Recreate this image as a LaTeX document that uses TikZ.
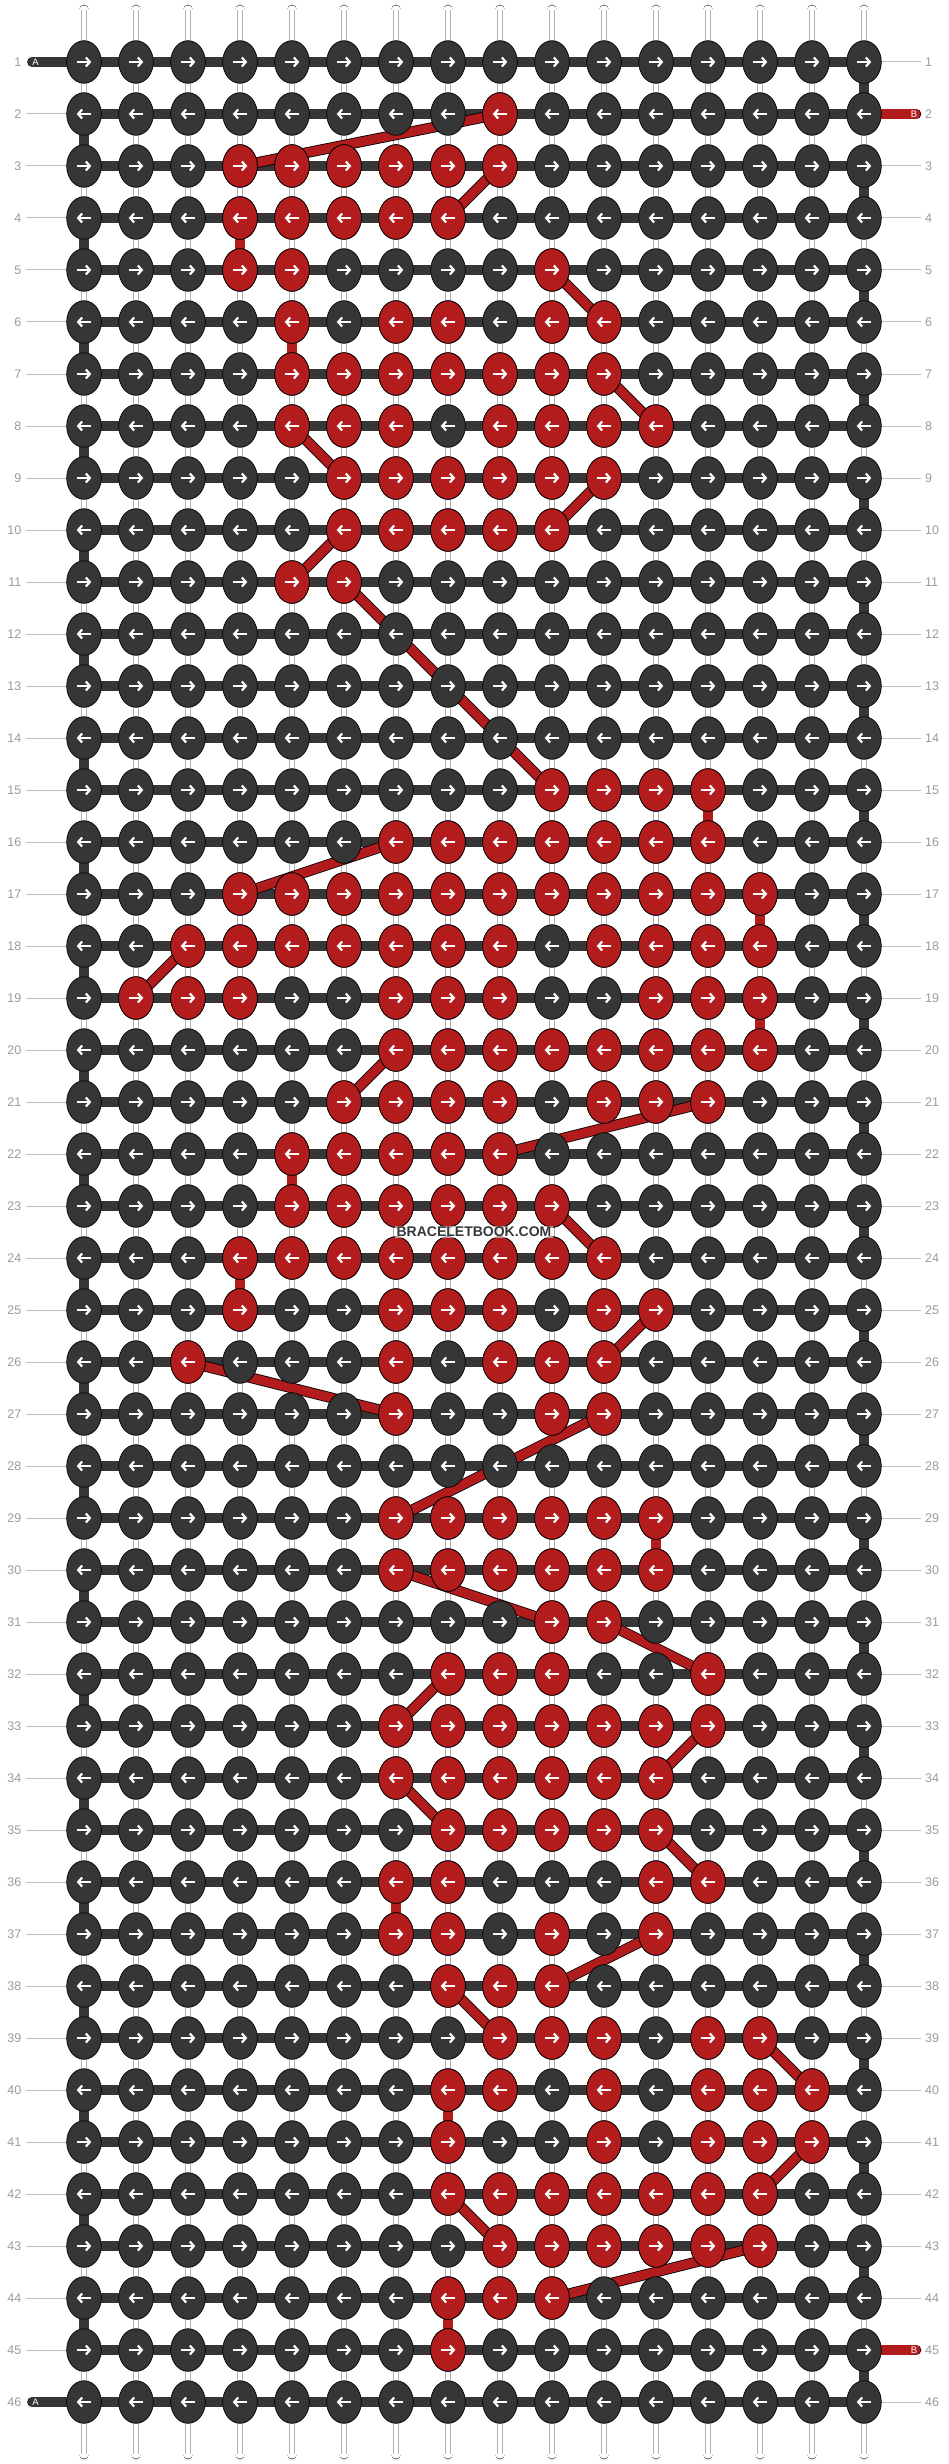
\documentclass[tikz,border=0pt]{standalone}
\usepackage{fontspec}
\setmainfont{Liberation Sans}
\usetikzlibrary{shapes.geometric,arrows.meta}

\definecolor{knotdark}{HTML}{363636}
\definecolor{knotred}{HTML}{B21C1C}
\definecolor{rowgrey}{HTML}{9A9A9A}
\definecolor{tickgrey}{HTML}{BDBDBD}

\pgfdeclarelayer{threads}
\pgfsetlayers{threads,main}

\tikzset{
  knot/.style={ellipse, draw=black, line width=0.7pt, minimum width=34.6pt,
    minimum height=42.6pt, inner sep=0pt},
  darkknot/.style={knot, fill=knotdark},
  redknot/.style={knot, fill=knotred},
  knotarrow/.style={white, line width=2.2pt, -{Straight Barb[length=4pt,width=9pt]}},
  darkbar/.style={draw=black, line width=0.8pt, double=knotdark, double distance=9.1pt},
  redbar/.style={draw=black, line width=0.8pt, double=knotred, double distance=9.1pt},
  string/.style={draw=black!80, line width=0.7pt, double=white, double distance=9.3pt, line cap=round},
  stringline/.style={draw=black!30, line width=0.6pt},
  tick/.style={draw=tickgrey, line width=1pt},
  rownum/.style={text=rowgrey, inner sep=0pt, font=\fontsize{12.5}{14}\selectfont},
  stubtext/.style={text=white, inner sep=0pt, font=\fontsize{9.5}{10}\selectfont},
  watermark/.style={text=black!78, fill=white, fill opacity=0.55, text opacity=1,
    inner sep=1.5pt, font=\bfseries\fontsize{14}{16}\selectfont}
}

\begin{document}
\begin{tikzpicture}[x=1pt,y=-1pt]
\useasboundingbox (0,0) rectangle (948,2464);

% knots, all dark first
\foreach \r in {1,...,46}
  \foreach \c in {1,...,16}
    \node[darkknot] (k\r-\c) at ({32+52*\c},{10+52*\r}) {};

% red knots of the pattern
\foreach \r/\cols in {2/{9}, 3/{4,5,6,7,8,9}, 4/{4,5,6,7,8}, 5/{4,5,10},
    6/{5,7,8,10,11}, 7/{5,6,7,8,9,10,11}, 8/{5,6,7,9,10,11,12},
    9/{6,7,8,9,10,11}, 10/{6,7,8,9,10}, 11/{5,6},
    15/{10,11,12,13}, 16/{7,8,9,10,11,12,13},
    17/{4,5,6,7,8,9,10,11,12,13,14}, 18/{3,4,5,6,7,8,9,11,12,13,14},
    19/{2,3,4,7,8,9,12,13,14}, 20/{7,8,9,10,11,12,13,14},
    21/{6,7,8,9,11,12,13}, 22/{5,6,7,8,9}, 23/{5,6,7,8,9,10},
    24/{4,5,6,7,8,9,10,11}, 25/{4,7,8,9,11,12}, 26/{3,7,9,10,11},
    27/{7,10,11}, 29/{7,8,9,10,11,12}, 30/{7,8,9,10,11,12}, 31/{10,11},
    32/{8,9,10,13}, 33/{7,8,9,10,11,12,13}, 34/{7,8,9,10,11,12},
    35/{8,9,10,11,12}, 36/{7,8,12,13}, 37/{7,8,10,12}, 38/{8,9,10},
    39/{9,10,11,13,14}, 40/{8,9,11,13,14,15}, 41/{8,11,13,14,15},
    42/{8,9,10,11,12,13,14}, 43/{9,10,11,12,13,14}, 44/{8,9,10}, 45/{8}}
  \foreach \c in \cols
    \node[redknot] (k\r-\c) at ({32+52*\c},{10+52*\r}) {};

% arrows: odd rows to the right, even rows to the left
\foreach \r in {1,...,46}
  \foreach \c in {1,...,16}{
    \ifodd\r
      \draw[knotarrow] ([xshift=-7.3pt]k\r-\c.center) -- ([xshift=7.3pt]k\r-\c.center);
    \else
      \draw[knotarrow] ([xshift=7.3pt]k\r-\c.center) -- ([xshift=-7.3pt]k\r-\c.center);
    \fi
  }

\node[watermark] (wm) at (474,1232) {BRACELETBOOK.COM};

\begin{pgfonlayer}{threads}
  % vertical strings
  \foreach \c in {1,...,16}{
    \coordinate (top\c) at ({32+52*\c},10);
    \coordinate (bot\c) at ({32+52*\c},2454);
    \draw[string] (top\c) -- (bot\c);
    \draw[stringline] ([xshift=-2.3pt]top\c) -- ([xshift=-2.3pt]bot\c);
    \draw[stringline] ([xshift=2.3pt]top\c) -- ([xshift=2.3pt]bot\c);
  }

  % row numbers
  \foreach \r in {1,...,46}{
    \node[rownum, anchor=east] (nl\r) at (21.5,{10+52*\r}) {\r};
    \node[rownum, anchor=west] (nr\r) at (925,{10+52*\r}) {\r};
  }
  \foreach \r in {2,...,45}
    \draw[tick] ([xshift=4.5pt]nl\r.east) -- (k\r-1);
  \foreach \r in {1,3,4,...,44,46}
    \draw[tick] (k\r-16) -- ([xshift=-4pt]nr\r.west);

  % thread A along the rows
  \foreach \r in {1,...,46}
    \draw[darkbar] (k\r-1.center) -- (k\r-16.center);
  \foreach \r in {1,3,...,45}{
    \pgfmathtruncatemacro\n{\r+1}
    \draw[darkbar] (k\r-16.center) -- (k\n-16.center);
  }
  \foreach \r in {2,4,...,44}{
    \pgfmathtruncatemacro\n{\r+1}
    \draw[darkbar] (k\r-1.center) -- (k\n-1.center);
  }

  % thread B from row to row
  \foreach \a/\b in {2-9/3-4, 3-9/4-8, 4-4/5-4, 5-10/6-11, 6-5/7-5, 7-11/8-12,
      8-5/9-6, 9-11/10-10, 10-6/11-5, 11-6/15-10, 15-13/16-13, 16-7/17-4,
      17-14/18-14, 18-3/19-2, 19-14/20-14, 20-7/21-6, 21-13/22-9, 22-5/23-5,
      23-10/24-11, 24-4/25-4, 25-12/26-11, 26-3/27-7, 27-11/29-7, 29-12/30-12,
      30-7/31-10, 31-11/32-13, 32-8/33-7, 33-13/34-12, 34-7/35-8, 35-12/36-13,
      36-7/37-7, 37-12/38-10, 38-8/39-9, 39-14/40-15, 40-8/41-8, 41-15/42-14,
      42-8/43-9, 43-14/44-10, 44-8/45-8}
    \draw[redbar] (k\a.center) -- (k\b.center);

  % loose ends
  \coordinate (ain) at (32.5,62);
  \coordinate (aout) at (32.5,2402);
  \coordinate (bin) at (916,114);
  \coordinate (bout) at (916,2350);
  \draw[darkbar, line cap=round] (ain) -- (k1-1.center);
  \draw[darkbar, line cap=round] (aout) -- (k46-1.center);
  \draw[redbar, line cap=round] (bin) -- (k2-16.center);
  \draw[redbar, line cap=round] (bout) -- (k45-16.center);
  \node[stubtext] (la1) at ([xshift=3pt]ain) {A};
  \node[stubtext] (la2) at ([xshift=3pt]aout) {A};
  \node[stubtext] (lb1) at ([xshift=-2pt]bin) {B};
  \node[stubtext] (lb2) at ([xshift=-2pt]bout) {B};
\end{pgfonlayer}
\end{tikzpicture}
\end{document}
